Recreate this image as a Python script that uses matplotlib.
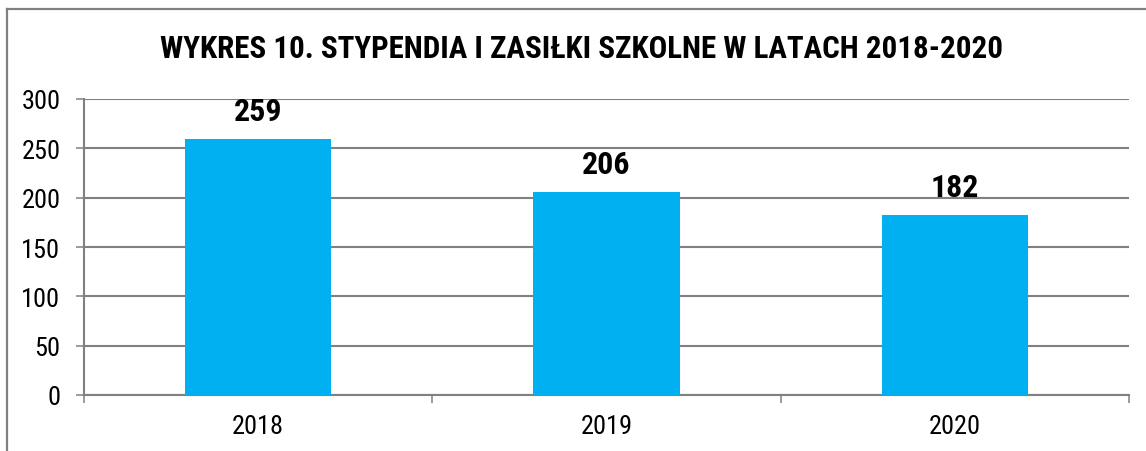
import numpy as np
import matplotlib
matplotlib.use("Agg")
import matplotlib.pyplot as plt
from matplotlib.lines import Line2D

years = ["2018", "2019", "2020"]
values = [259, 206, 182]
yticks = [0, 50, 100, 150, 200, 250, 300]
title = "WYKRES 10. STYPENDIA I ZASIŁKI SZKOLNE W LATACH 2018-2020"

plt.rcParams["font.family"] = ["Liberation Sans Narrow", "Roboto Condensed", "Archivo Narrow", "DejaVu Sans"]

grey = "#808080"
bar_color = "#00B0F0"

fig = plt.figure(figsize=(11.46, 4.52), dpi=100)
ax = fig.add_axes([84 / 1146, 1 - 396 / 452, (1129 - 84) / 1146, (396 - 100) / 452])

x = np.arange(len(years))
bars = ax.bar(x, values, width=0.42, color=bar_color, zorder=3)

for xi, v in zip(x, values):
    ax.annotate(str(v), (xi, v), xytext=(0, 9.5), textcoords="offset points",
                ha="center", va="bottom", fontsize=23, fontweight="bold")

ax.set_xlim(-0.5, 2.5)
ax.set_ylim(0, 300)
ax.set_yticks(yticks)
ax.set_xticks(x)
ax.set_xticklabels(years)
ax.set_xticks([-0.5, 0.5, 1.5, 2.5], minor=True)

ax.yaxis.grid(True, color=grey, linewidth=1.5, zorder=0)
ax.tick_params(axis="y", length=6, width=1.1, color=grey, labelsize=19, pad=11)
ax.tick_params(axis="x", which="major", length=0, labelsize=19, pad=14)
ax.tick_params(axis="x", which="minor", length=5.5, width=1.1, color=grey)

for s in ["top", "right"]:
    ax.spines[s].set_visible(False)
ax.spines["left"].set_color(grey)
ax.spines["left"].set_linewidth(1.5)
ax.spines["bottom"].set_color(grey)
ax.spines["bottom"].set_linewidth(1.5)

fig.text(0.507, 1 - 49 / 452, title, ha="center", va="center",
         fontsize=22.3, fontweight="bold")

# outer frame (only top and left visible)
fig.add_artist(Line2D([6.5 / 1146, 1], [1 - 9.5 / 452] * 2, color=grey, linewidth=1.6,
                      transform=fig.transFigure))
fig.add_artist(Line2D([6.5 / 1146] * 2, [0, 1 - 9.5 / 452], color=grey, linewidth=1.6,
                      transform=fig.transFigure))

fig.savefig("out.png", dpi=100)
